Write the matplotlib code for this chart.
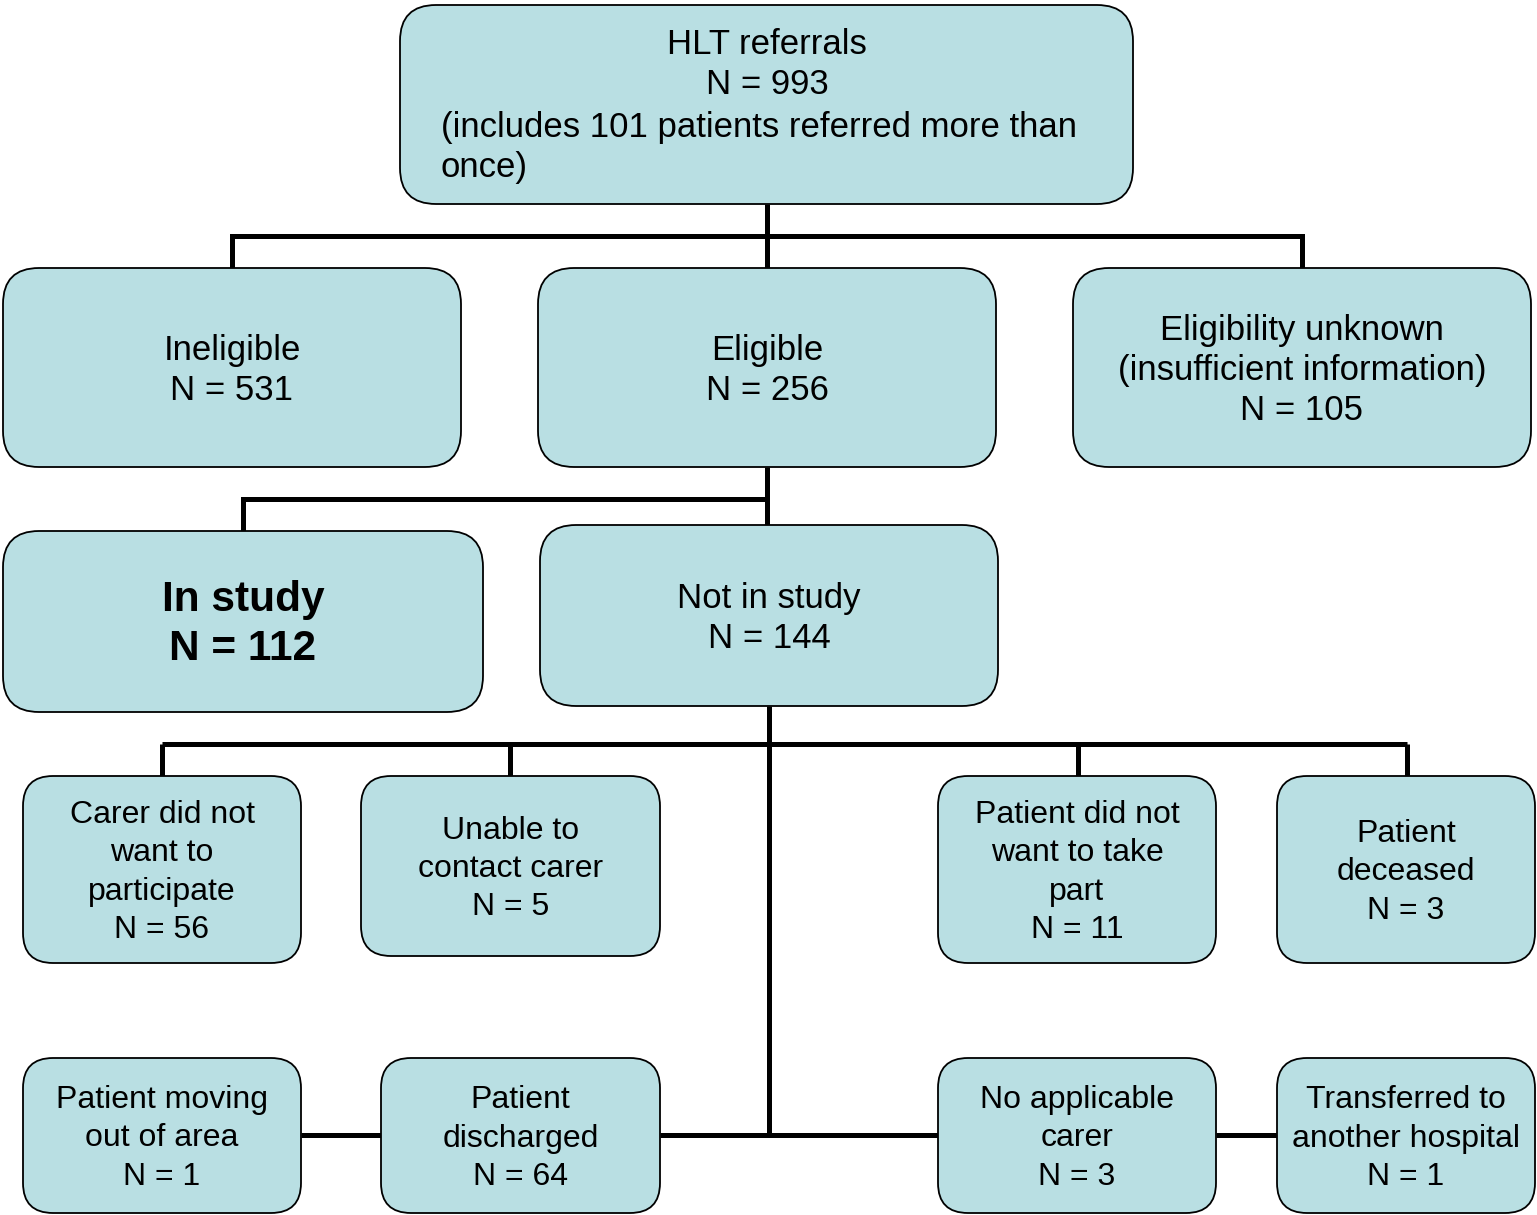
import matplotlib
matplotlib.use("Agg")
import matplotlib.pyplot as plt
from matplotlib.patches import FancyBboxPatch

plt.rcParams['font.family'] = ['Liberation Sans', 'DejaVu Sans']

# ---- data ----
top_title = "HLT referrals"
top_n = 993
top_note = "(includes 101 patients referred more than"
top_note2 = "once)"

level1_labels = ["Ineligible", "Eligible", "Eligibility unknown\n(insufficient information)"]
level1_counts = [531, 256, 105]

level2_labels = ["In study", "Not in study"]
level2_counts = [112, 144]

reason_labels = ["Carer did not\nwant to\nparticipate", "Unable to\ncontact carer",
                 "Patient did not\nwant to take\npart", "Patient\ndeceased",
                 "Patient moving\nout of area", "Patient\ndischarged",
                 "No applicable\ncarer", "Transferred to\nanother hospital"]
reason_counts = [56, 5, 11, 3, 1, 64, 3, 1]

# ---- layout (pixel coordinates) ----
W, H = 1537, 1215
fig = plt.figure(figsize=(W / 100, H / 100), dpi=100)
ax = fig.add_axes([0, 0, 1, 1])
ax.set_xlim(0, W)
ax.set_ylim(H, 0)
ax.axis('off')

FILL = '#b9dfe3'
LW_LINE = 3.6


def box(x0, y0, x1, y1, r=34):
    p = FancyBboxPatch((x0, y0), x1 - x0, y1 - y0,
                       boxstyle=f"round,pad=0,rounding_size={r}",
                       fc=FILL, ec='black', lw=1.3, zorder=3)
    ax.add_patch(p)


def line(xs, ys):
    ax.plot(xs, ys, color='black', lw=LW_LINE, solid_capstyle='butt',
            solid_joinstyle='miter', zorder=1)


# connectors
line([767, 767], [204, 268])
line([232, 232, 1302, 1302], [268, 236, 236, 268])
line([767, 767], [467, 525])
line([243, 243, 767], [531, 499, 499])
line([769, 769], [706, 1135])
line([162, 162], [776, 744])
line([510, 510], [776, 744])
line([1078, 1078], [776, 744])
line([1407, 1407], [776, 744])
line([162, 1407], [744, 744])
line([301, 381], [1135, 1135])
line([660, 938], [1135, 1135])
line([1216, 1277], [1135, 1135])

FS1 = 25
FS3 = 23

# top box
box(400, 5, 1133, 204, r=36)
ax.text(767, 44, top_title, ha='center', va='center', fontsize=FS1, zorder=4)
ax.text(767, 85, f"N = {top_n}", ha='center', va='center', fontsize=FS1, zorder=4)
ax.text(441, 127, top_note, ha='left', va='center', fontsize=FS1, zorder=4)
ax.text(441, 167, top_note2, ha='left', va='center', fontsize=FS1, zorder=4)

# level 1
l1_boxes = [(3, 268, 461, 467), (538, 268, 996, 467), (1073, 268, 1531, 467)]
for (x0, y0, x1, y1), lab, n in zip(l1_boxes, level1_labels, level1_counts):
    box(x0, y0, x1, y1, r=36)
    ax.text((x0 + x1) / 2, (y0 + y1) / 2 + 3, f"{lab}\nN = {n}", ha='center', va='center',
            fontsize=FS1, linespacing=1.27, zorder=4)

# level 2
l2_boxes = [(3, 531, 483, 712), (540, 525, 998, 706)]
for i, ((x0, y0, x1, y1), lab, n) in enumerate(zip(l2_boxes, level2_labels, level2_counts)):
    box(x0, y0, x1, y1, r=36)
    if i == 0:
        ax.text((x0 + x1) / 2, (y0 + y1) / 2 + 3, f"{lab}\nN = {n}", ha='center', va='center',
                fontsize=30.5, fontweight='bold', linespacing=1.27, zorder=4)
    else:
        ax.text((x0 + x1) / 2, (y0 + y1) / 2 + 3, f"{lab}\nN = {n}", ha='center', va='center',
                fontsize=FS1, linespacing=1.27, zorder=4)

# reasons
r_boxes = [(23, 776, 301, 963), (361, 776, 660, 956), (938, 776, 1216, 963), (1277, 776, 1535, 963),
           (23, 1058, 301, 1213), (381, 1058, 660, 1213), (938, 1058, 1216, 1213), (1277, 1058, 1535, 1213)]
for (x0, y0, x1, y1), lab, n in zip(r_boxes, reason_labels, reason_counts):
    box(x0, y0, x1, y1, r=30)
    ax.text((x0 + x1) / 2, (y0 + y1) / 2 + 3, f"{lab}\nN = {n}", ha='center', va='center',
            fontsize=FS3, linespacing=1.36, zorder=4)

fig.savefig("out.png", dpi=100)
